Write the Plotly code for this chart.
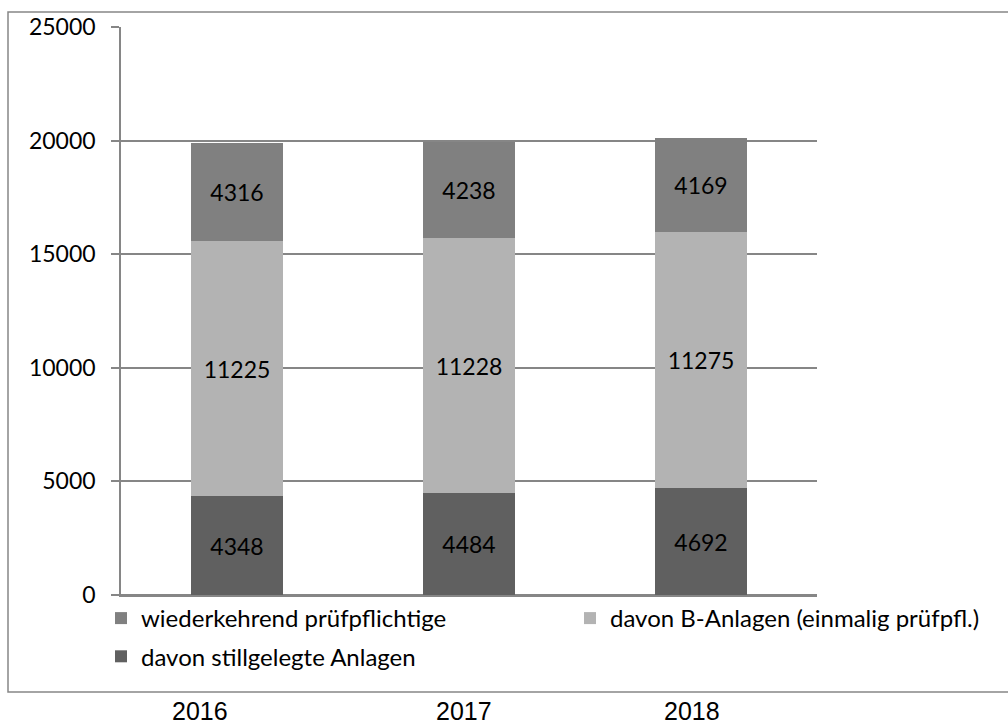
import plotly.graph_objects as go

years = ["2016", "2017", "2018"]
stillgelegt = [4348, 4484, 4692]
b_anlagen = [11225, 11228, 11275]
wiederkehrend = [4316, 4238, 4169]

names = ["davon stillgelegte Anlagen", "davon B-Anlagen (einmalig prüfpfl.)", "wiederkehrend prüfpflichtige"]
colors = ["#606060", "#b3b3b3", "#808080"]

FONT = "Lato"
W, H = 1008, 724
L, R, T, B = 121, 817, 27, 595

def px(x):
    return (x - L) / (R - L)

def py(y):
    return (B - y) / (B - T)

fig = go.Figure()
fig.add_trace(go.Bar(x=years, y=stillgelegt, name=names[0], marker_color=colors[0],
                     text=stillgelegt, legend="legend", legendrank=2, legendgroup="g2"))
fig.add_trace(go.Bar(x=years, y=b_anlagen, name=names[1], marker_color=colors[1],
                     text=b_anlagen, legend="legend2", legendgroup="g3"))
fig.add_trace(go.Bar(x=years, y=wiederkehrend, name=names[2], marker_color=colors[2],
                     text=wiederkehrend, legend="legend", legendrank=1, legendgroup="g1"))
fig.update_traces(textposition="inside", insidetextanchor="middle", textangle=0,
                  textfont=dict(family=FONT, size=23, color="#000000"),
                  constraintext="none", marker_line_width=0)

grid = "#868686"
leg_common = dict(xanchor="left", yanchor="top", orientation="v", traceorder="grouped",
                  tracegroupgap=4, bgcolor="rgba(0,0,0,0)",
                  font=dict(family=FONT, size=24, color="#000000"), itemclick=False)
fig.update_layout(
    width=W, height=H,
    margin=dict(l=L, r=W - R, t=T, b=H - B, pad=0),
    barmode="stack", bargap=0.603,
    paper_bgcolor="white", plot_bgcolor="white",
    font=dict(family=FONT, size=23, color="#000000"),
    xaxis=dict(showticklabels=False, showline=True, linecolor=grid, linewidth=1.5,
               ticks="", showgrid=False),
    yaxis=dict(range=[0, 25000], dtick=5000, tickformat="d", showgrid=True, gridcolor=grid,
               gridwidth=1.5, showline=True, linecolor=grid, linewidth=1.5, ticks="outside",
               ticklen=8, tickcolor=grid, tickwidth=1.5, zeroline=True, zerolinecolor=grid,
               zerolinewidth=1.5, ticklabelstandoff=11,
               tickfont=dict(family=FONT, size=23, color="#000000")),
    legend=dict(x=px(101), y=py(596), **leg_common),
    legend2=dict(x=px(570), y=py(596), **leg_common),
    showlegend=True,
)

# outer frame
fig.add_shape(type="rect", xref="paper", yref="paper",
              x0=px(8), x1=px(1015), y0=py(692), y1=py(12),
              line=dict(color=grid, width=1.5), fillcolor="rgba(0,0,0,0)", layer="below")

# year labels under the frame
label_x = [200, 464, 692]
for yr, lx in zip(years, label_x):
    fig.add_annotation(text=yr, xref="paper", yref="paper", x=px(lx), y=py(711),
                       xanchor="center", yanchor="middle", showarrow=False,
                       font=dict(family="Liberation Sans", size=25, color="#000000"))

fig.write_html("out.html")
